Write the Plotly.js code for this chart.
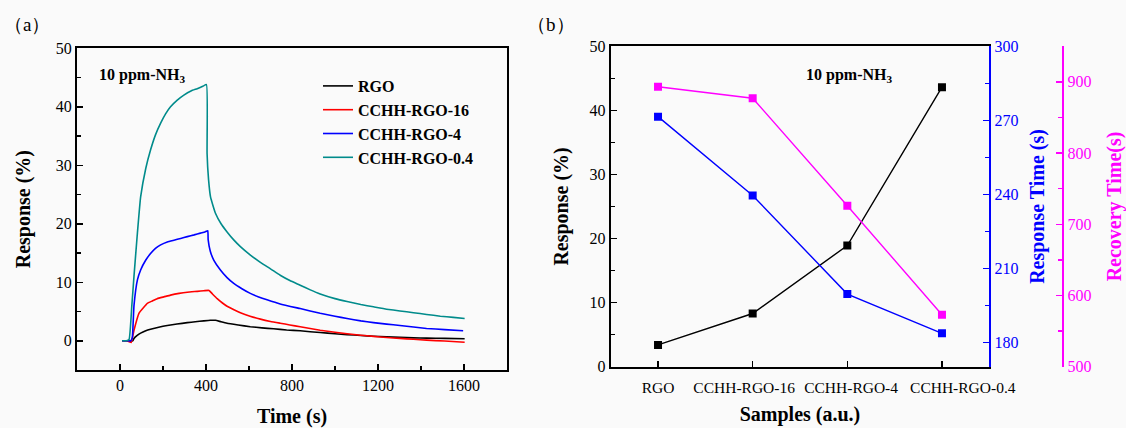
<!DOCTYPE html>
<html>
<head>
<meta charset="utf-8">
<script src="https://cdn.plot.ly/plotly-3.0.1.min.js"></script>
<style>html,body{margin:0;padding:0;background:#fafafa;}#chart{width:1126px;height:428px;}</style>
</head>
<body>
<div id="chart"></div>
<script>
// ---------- Panel (a): response transients ----------
var rgoT = [10, 30, 50, 60, 65, 80, 96, 120, 142, 180, 220, 265, 313, 350, 390, 420, 444, 470, 498, 550, 606, 660, 714, 775, 838, 931, 1000, 1056, 1120, 1179, 1240, 1302, 1365, 1426, 1510, 1603];
var rgoV = [0, 0, -0.1, 0, 0.4, 0.9, 1.3, 1.7, 1.95, 2.3, 2.6, 2.85, 3.1, 3.25, 3.4, 3.5, 3.5, 3.25, 3.0, 2.7, 2.4, 2.2, 2.05, 1.85, 1.7, 1.4, 1.2, 1.05, 0.9, 0.78, 0.67, 0.58, 0.5, 0.45, 0.4, 0.35];

var r16T = [10, 30, 45, 52, 65, 88, 110, 127, 150, 173, 204, 235, 275, 313, 360, 390, 414, 430, 452, 475, 498, 530, 560, 605, 653, 700, 745, 790, 838, 931, 1000, 1056, 1120, 1179, 1240, 1302, 1365, 1426, 1510, 1603];
var r16V = [0, 0, -0.2, -0.3, 1.8, 4.7, 5.7, 6.4, 6.8, 7.2, 7.5, 7.8, 8.1, 8.3, 8.45, 8.55, 8.6, 8.0, 7.2, 6.5, 5.9, 5.3, 4.8, 4.2, 3.7, 3.3, 3.0, 2.7, 2.4, 1.8, 1.45, 1.2, 0.95, 0.75, 0.55, 0.4, 0.25, 0.1, -0.05, -0.25];

var r4T = [10, 30, 50, 57, 65, 81, 96, 120, 142, 165, 189, 220, 251, 282, 313, 345, 374, 395, 408, 410, 420, 436, 467, 498, 529, 567, 606, 645, 684, 745, 838, 931, 1000, 1056, 1120, 1179, 1240, 1302, 1365, 1426, 1510, 1596];
var r4V = [0, 0, 0, 0.5, 6, 10.4, 12.1, 13.8, 14.9, 15.8, 16.4, 16.9, 17.2, 17.5, 17.8, 18.1, 18.4, 18.6, 18.8, 17.3, 15.3, 13.8, 12.1, 10.8, 9.8, 8.9, 8.1, 7.5, 7.0, 6.3, 5.5, 4.7, 4.2, 3.8, 3.4, 3.1, 2.85, 2.6, 2.35, 2.1, 1.9, 1.7];

var r04T = [10, 30, 42, 55, 65, 80, 96, 120, 142, 165, 189, 212, 235, 265, 297, 330, 359, 385, 402, 405, 412, 421, 444, 470, 498, 530, 560, 605, 653, 700, 745, 790, 838, 885, 931, 1000, 1056, 1120, 1179, 1240, 1302, 1365, 1426, 1490, 1550, 1603];
var r04V = [0, 0, 0.2, 6, 11, 18, 24.6, 29.5, 32.6, 35.2, 37.2, 38.8, 40.0, 41.1, 42.0, 42.7, 43.1, 43.5, 43.8, 32, 27.5, 24.6, 21.8, 20.0, 18.6, 17.2, 16.1, 14.7, 13.4, 12.3, 11.2, 10.3, 9.5, 8.7, 8.0, 7.2, 6.7, 6.2, 5.8, 5.4, 5.1, 4.8, 4.5, 4.2, 4.0, 3.8];

var seriesNames = ["RGO", "CCHH-RGO-16", "CCHH-RGO-4", "CCHH-RGO-0.4"];

// ---------- Panel (b): summary ----------
var samples = ["RGO", "CCHH-RGO-16", "CCHH-RGO-4", "CCHH-RGO-0.4"];
var responsePct = [3.4, 8.3, 18.9, 43.6];
var responseTime = [271.5, 239.6, 199.7, 183.8];
var recoveryTime = [893, 877, 726, 573];

var FONT = "Liberation Serif, Times New Roman, serif";
var BG = "#fafafa";

// sample index positions on the category scale
var sampleIdx = samples.map(function (s, i) { return i; });
// labels are nudged apart (as in the original) so the long names do not collide
var labelNudge = [0, -0.09, 0.04, 0.22];
var labelPos = sampleIdx.map(function (i) { return i + labelNudge[i]; });

function curve(t, v, name, color) {
  return {x: t, y: v, name: name, type: "scatter", mode: "lines",
          line: {color: color, width: 1.6, shape: "spline", smoothing: 0.4}, xaxis: "x", yaxis: "y"};
}

function summary(y, color, yaxis) {
  return {x: sampleIdx, y: y, text: samples, type: "scatter", mode: "lines+markers", showlegend: false,
          line: {color: color, width: 1.4}, marker: {symbol: "square", size: 8, color: color}, xaxis: "x2", yaxis: yaxis};
}

var traces = [
  curve(rgoT, rgoV, seriesNames[0], "#000000"),
  curve(r16T, r16V, seriesNames[1], "#ff0000"),
  curve(r4T, r4V, seriesNames[2], "#0000ff"),
  curve(r04T, r04V, seriesNames[3], "#008b8b"),
  summary(responsePct, "#000000", "y2"),
  summary(responseTime, "#0000ff", "y3"),
  summary(recoveryTime, "#ff00ff", "y4")
];

var tickFont = {family: FONT, size: 16, color: "#000"};
var titleFont = {family: FONT, size: 20, color: "#000", weight: "bold"};

var layout = {
  width: 1126, height: 428,
  margin: {l: 0, r: 0, t: 0, b: 0},
  paper_bgcolor: BG, plot_bgcolor: BG,
  font: {family: FONT, color: "#000"},
  showlegend: true,
  legend: {x: 318/1126, y: (428-69)/428, xanchor: "left", yanchor: "top", bgcolor: "rgba(0,0,0,0)",
           font: {family: FONT, size: 16, color: "#000", weight: "bold"}, tracegroupgap: 0},
  xaxis: {domain: [77/1126, 507/1126], anchor: "y", range: [-200, 1800], tickmode: "linear", tick0: 0, dtick: 400,
          ticks: "inside", ticklen: 6, tickwidth: 1.5, tickcolor: "#000", showline: true, linecolor: "#000", linewidth: 2, mirror: true,
          showgrid: false, zeroline: false, tickfont: tickFont,
          minor: {ticks: "inside", ticklen: 4, tickwidth: 1.5, dtick: 200, tick0: 0, tickcolor: "#000", showgrid: false},
          title: {text: "Time (s)", font: titleFont, standoff: 18}},
  yaxis: {domain: [(428-370)/428, (428-48.3)/428], anchor: "x", range: [-5, 50], tickmode: "linear", tick0: 0, dtick: 10,
          ticks: "inside", ticklen: 6, tickwidth: 1.5, tickcolor: "#000", showline: true, linecolor: "#000", linewidth: 2, mirror: true,
          showgrid: false, zeroline: false, tickfont: tickFont,
          minor: {ticks: "inside", ticklen: 4, tickwidth: 1.5, dtick: 5, tick0: 0, tickcolor: "#000", showgrid: false},
          title: {text: "Response (%)", font: titleFont, standoff: 20}},
  xaxis2: {domain: [610.7/1126, 989.3/1126], anchor: "y2", type: "linear", range: [-0.5, 3.5], tickangle: 0,
           tickmode: "array", tickvals: labelPos, ticktext: samples, ticks: "",
           showline: true, linecolor: "#000", linewidth: 2, mirror: true,
           showgrid: false, zeroline: false, tickfont: {family: FONT, size: 15.5, color: "#000"}, ticklabelstandoff: 6,
           minor: {tickmode: "array", tickvals: sampleIdx, ticks: "inside", ticklen: 6, tickwidth: 1.5, tickcolor: "#000", showgrid: false},
           title: {text: "Samples (a.u.)", font: titleFont, standoff: 12}},
  yaxis2: {domain: [(428-366.7)/428, (428-46.2)/428], anchor: "x2", range: [0, 50], tickmode: "linear", tick0: 0, dtick: 10,
           ticks: "inside", ticklen: 6, tickwidth: 1.5, tickcolor: "#000", showline: true, linecolor: "#000", linewidth: 2,
           showgrid: false, zeroline: false, tickfont: tickFont,
           minor: {ticks: "inside", ticklen: 4, tickwidth: 1.5, dtick: 5, tick0: 0, tickcolor: "#000", showgrid: false},
           title: {text: "Response (%)", font: titleFont, standoff: 15}},
  yaxis3: {overlaying: "y2", anchor: "x2", side: "right", range: [170.3, 300], tickmode: "linear", tick0: 180, dtick: 30,
           ticks: "inside", ticklen: 6, tickwidth: 1.5, tickcolor: "#0000ff", showline: true, linecolor: "#0000ff", linewidth: 2,
           showgrid: false, zeroline: false, tickfont: {family: FONT, size: 16, color: "#0000ff"},
           minor: {ticks: "inside", ticklen: 4, tickwidth: 1.5, dtick: 15, tick0: 180, tickcolor: "#0000ff", showgrid: false},
           title: {text: "Response Time (s)", font: {family: FONT, size: 20, color: "#0000ff", weight: "bold"}, standoff: 13}},
  yaxis4: {overlaying: "y2", anchor: "free", position: 1063.3/1126, side: "right", range: [500, 950], tickmode: "linear", tick0: 500, dtick: 100,
           ticks: "inside", ticklen: 6, tickwidth: 1.5, tickcolor: "#ff00ff", showline: true, linecolor: "#ff00ff", linewidth: 2,
           showgrid: false, zeroline: false, tickfont: {family: FONT, size: 16, color: "#ff00ff"},
           minor: {ticks: "inside", ticklen: 4, tickwidth: 1.5, dtick: 50, tick0: 500, tickcolor: "#ff00ff", showgrid: false},
           title: {text: "Recovery Time(s)", font: {family: FONT, size: 20, color: "#ff00ff", weight: "bold"}, standoff: 18}},
  annotations: [
    {text: "（a）", xref: "paper", yref: "paper", x: 2/1126, y: (428-24)/428, xanchor: "left", yanchor: "middle", showarrow: false,
     font: {family: FONT, size: 19, color: "#000"}},
    {text: "（b）", xref: "paper", yref: "paper", x: 525/1126, y: (428-24)/428, xanchor: "left", yanchor: "middle", showarrow: false,
     font: {family: FONT, size: 19, color: "#000"}},
    {text: "10 ppm-NH<sub>3</sub>", xref: "paper", yref: "paper", x: 97/1126, y: (428-75)/428, xanchor: "left", yanchor: "middle", showarrow: false,
     font: {family: FONT, size: 16, color: "#000", weight: "bold"}},
    {text: "10 ppm-NH<sub>3</sub>", xref: "paper", yref: "paper", x: 804/1126, y: (428-75)/428, xanchor: "left", yanchor: "middle", showarrow: false,
     font: {family: FONT, size: 16, color: "#000", weight: "bold"}}
  ]
};

Plotly.newPlot("chart", traces, layout, {displayModeBar: false, staticPlot: true});
</script>
</body>
</html>
